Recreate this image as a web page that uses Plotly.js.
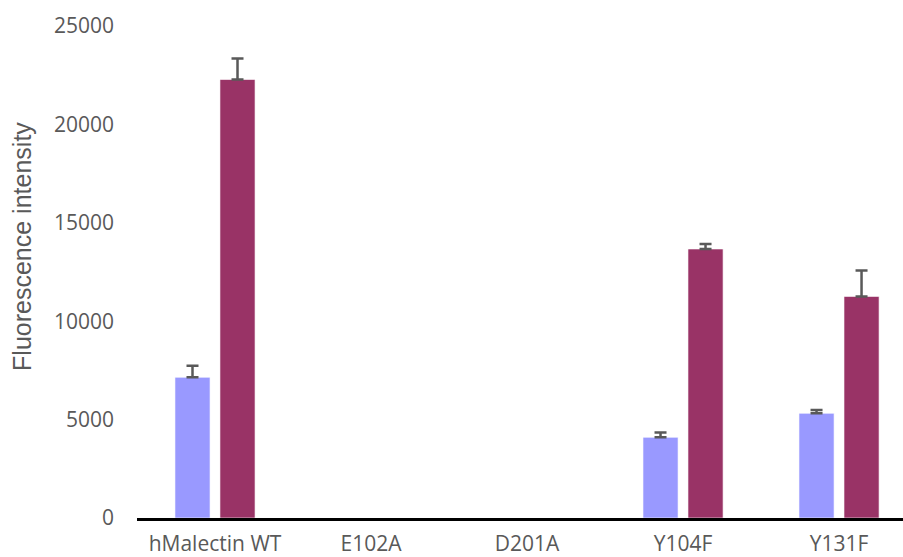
<!DOCTYPE html>
<html>
<head>
<meta charset="utf-8">
<script src="https://cdn.plot.ly/plotly-3.0.1.min.js"></script>
<style>
  html, body { margin: 0; padding: 0; background: #ffffff; }
  #chart { width: 903px; height: 557px; }
</style>
</head>
<body>
<div id="chart"></div>
<script>
// Sample groups along the x axis
const categories = ["hMalectin WT", "E102A", "D201A", "Y104F", "Y131F"];

// First series (light violet) and its upper error; null = no signal measured
const series1Values = [7150, null, null, 4100, 5320];
const series1Errors = [580, null, null, 240, 170];

// Second series (maroon) and its upper error
const series2Values = [22280, null, null, 13670, 11260];
const series2Errors = [1070, null, null, 250, 1320];

// Y axis ticks
const yTickValues = [0, 5000, 10000, 15000, 20000, 25000];
const yTickLabels = ["0", "5000", "10000", "15000", "20000", "25000"];

const yTitle = "Fluorescence intensity";

const errStyle = (arr) => ({
  type: "data",
  symmetric: false,
  array: arr,
  arrayminus: arr.map(() => 0),
  color: "#595959",
  thickness: 2.5,
  width: 6
});

const traces = [
  {
    type: "bar",
    x: categories,
    y: series1Values,
    marker: { color: "#9999FF", line: { color: "rgba(255,255,255,0.6)", width: 1 } },
    error_y: errStyle(series1Errors),
    hoverinfo: "skip"
  },
  {
    type: "bar",
    x: categories,
    y: series2Values,
    marker: { color: "#993366", line: { color: "rgba(255,255,255,0.6)", width: 1 } },
    error_y: errStyle(series2Errors),
    hoverinfo: "skip"
  }
];

const labelFont = { family: "Open Sans, sans-serif", size: 21, color: "#595959" };

const layout = {
  width: 903,
  height: 557,
  margin: { l: 137, r: 0, t: 26, b: 39 },
  paper_bgcolor: "#ffffff",
  plot_bgcolor: "#ffffff",
  showlegend: false,
  barmode: "group",
  bargap: 0.423,
  bargroupgap: 0.22,
  font: labelFont,
  xaxis: {
    type: "category",
    range: [-0.5, 4.41],
    showline: true,
    linecolor: "#000000",
    linewidth: 3,
    showgrid: false,
    zeroline: false,
    ticks: "",
    ticklabelstandoff: 5,
    tickfont: labelFont
  },
  yaxis: {
    range: [0, 25000],
    tickvals: yTickValues,
    ticktext: yTickLabels,
    showline: false,
    showgrid: false,
    zeroline: false,
    ticks: "",
    ticklabelstandoff: 22,
    tickfont: labelFont
  },
  annotations: [
    {
      text: yTitle,
      xref: "paper",
      yref: "paper",
      x: 0,
      y: 0.551,
      xshift: -115,
      xanchor: "center",
      yanchor: "middle",
      textangle: -90,
      showarrow: false,
      font: { family: "Liberation Sans, Arial, sans-serif", size: 25, color: "#595959" }
    }
  ]
};

Plotly.newPlot("chart", traces, layout, { staticPlot: true, displayModeBar: false });
</script>
</body>
</html>
